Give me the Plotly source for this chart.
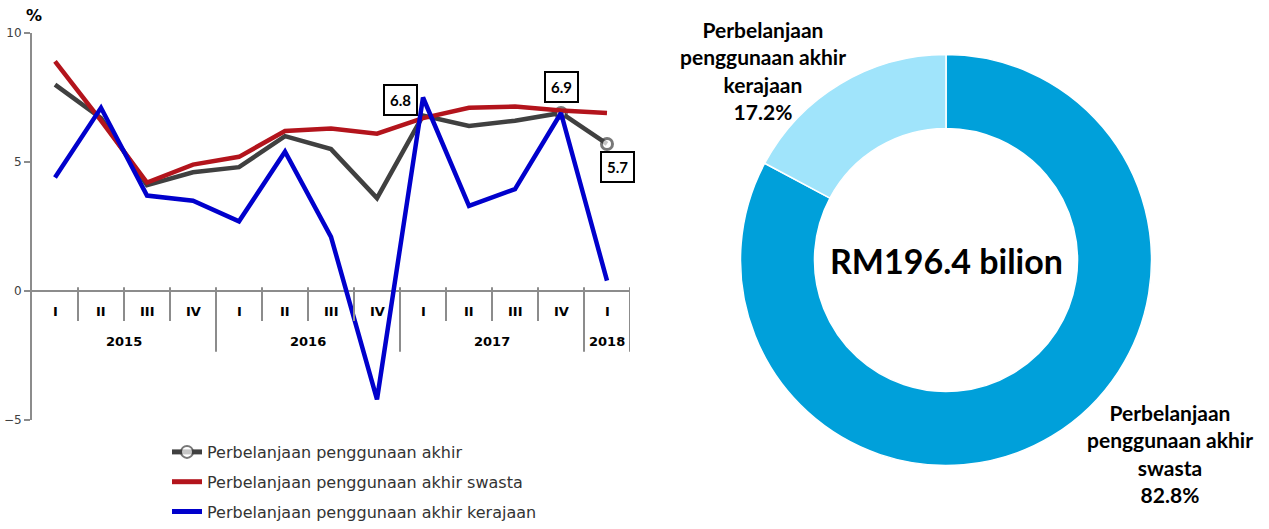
import plotly.graph_objects as go

# ---------------- data ----------------
quarters = ["I", "II", "III", "IV", "I", "II", "III", "IV", "I", "II", "III", "IV", "I"]
years = ["2015", "2016", "2017", "2018"]
year_counts = [4, 4, 4, 1]
total = [8.0, 6.7, 4.1, 4.6, 4.8, 6.0, 5.5, 3.6, 6.8, 6.4, 6.6, 6.9, 5.7]
swasta = [8.9, 6.6, 4.2, 4.9, 5.2, 6.2, 6.3, 6.1, 6.7, 7.1, 7.15, 7.0, 6.9]
kerajaan = [4.4, 7.1, 3.7, 3.5, 2.7, 5.4, 2.1, -4.2, 7.5, 3.3, 3.95, 6.9, 0.4]
series_names = ["Perbelanjaan penggunaan akhir",
                "Perbelanjaan penggunaan akhir swasta",
                "Perbelanjaan penggunaan akhir kerajaan"]
labelled_points = [8, 11, 12]

pie_labels = ["Perbelanjaan penggunaan akhir swasta", "Perbelanjaan penggunaan akhir kerajaan"]
pie_values = [82.8, 17.2]
pie_total = "RM196.4 bilion"

# ---------------- style ----------------
W, H = 1269, 529
FONT = "DejaVu Sans"
BOLD_FONT = "Lato"
GREY = "#404040"
RED = "#B3141C"
BLUE = "#0000CC"
AXIS = "#8C8C8C"
PIE_COLORS = ["#00A0DA", "#A0E4FB"]

x = list(range(len(quarters)))

fig = go.Figure()

marker_sizes = [11 if i >= len(x) - 2 else 0 for i in x]
fig.add_trace(go.Scatter(
    x=x, y=total, mode="lines+markers", name=series_names[0],
    line=dict(color=GREY, width=4.5),
    marker=dict(size=marker_sizes, color="white", line=dict(color=GREY, width=3)),
    legendgroup="a",
))
fig.add_trace(go.Scatter(
    x=x, y=swasta, mode="lines", name=series_names[1],
    line=dict(color=RED, width=4.5), legendgroup="b",
))
fig.add_trace(go.Scatter(
    x=x, y=kerajaan, mode="lines", name=series_names[2],
    line=dict(color=BLUE, width=4.5), legendgroup="c",
))

fig.add_trace(go.Pie(
    labels=pie_labels, values=pie_values, hole=0.64, sort=False,
    direction="clockwise", rotation=0, textinfo="none",
    marker=dict(colors=PIE_COLORS, line=dict(color="white", width=1.5)),
    domain=dict(x=[(946 - 205.5) / W, (946 + 205.5) / W],
                y=[1 - (260 + 205.5) / H, 1 - (260 - 205.5) / H]),
    showlegend=False,
))

annotations = []
shapes = []

def ann(**kw):
    kw.setdefault("showarrow", False)
    kw.setdefault("xanchor", "center")
    kw.setdefault("yanchor", "middle")
    annotations.append(kw)

# quarter labels and separators
for i, q in enumerate(quarters):
    ann(x=i, y=-0.8, xref="x", yref="y", text="<b>%s</b>" % q,
        font=dict(family=FONT, size=13, color="black"))
for i in range(1, len(quarters) + 1):
    shapes.append(dict(type="line", xref="x", yref="y", x0=i - 0.5, x1=i - 0.5,
                       y0=0.15, y1=-1.16, line=dict(color=AXIS, width=2)))
start = 0
for yr, n in zip(years, year_counts):
    ann(x=start + (n - 1) / 2, y=-1.97, xref="x", yref="y",
        text="<b>%s</b>" % yr, font=dict(family=FONT, size=13, color="black"))
    end = start + n
    shapes.append(dict(type="line", xref="x", yref="y", x0=end - 0.5, x1=end - 0.5,
                       y0=0, y1=-2.35, line=dict(color=AXIS, width=2)))
    start = end

# data labels
shifts = {8: (-23, 16), 11: (0, 26), 12: (10, -23)}
for i in labelled_points:
    dx, dy = shifts[i]
    ann(x=i, y=total[i], xref="x", yref="y",
        text="<b>%.1f</b>" % total[i], xshift=dx, yshift=dy,
        bordercolor="black", borderwidth=2, borderpad=5, bgcolor="white",
        font=dict(family=BOLD_FONT, size=15, color="black"))

# % unit
ann(x=34 / W, y=1 - 16 / H, xref="paper", yref="paper", text="<b>%</b>",
    font=dict(family=FONT, size=16, color="black"))

# pie texts
ann(x=946 / W, y=1 - 260 / H, xref="paper", yref="paper",
    text="<b>%s</b>" % pie_total, font=dict(family=BOLD_FONT, size=34, color="black"))
ann(x=763 / W, y=1 - 71 / H, xref="paper", yref="paper",
    text="<b>Perbelanjaan<br>penggunaan akhir<br>kerajaan<br>%.1f%%</b>" % pie_values[1],
    align="center", font=dict(family=BOLD_FONT, size=21, color="black"))
ann(x=1170 / W, y=1 - 453 / H, xref="paper", yref="paper",
    text="<b>Perbelanjaan<br>penggunaan akhir<br>swasta<br>%.1f%%</b>" % pie_values[0],
    align="center", font=dict(family=BOLD_FONT, size=21, color="black"))

fig.update_layout(
    width=W, height=H,
    margin=dict(l=0, r=0, t=0, b=0, autoexpand=False),
    paper_bgcolor="white", plot_bgcolor="white",
    font=dict(family=FONT),
    xaxis=dict(domain=[32 / W, 630 / W], range=[-0.5, 12.5], showgrid=False,
               zeroline=False, showticklabels=False, showline=False, fixedrange=True),
    yaxis=dict(domain=[1 - 420 / H, 1 - 33 / H], range=[-5, 10], tickvals=[-5, 0, 5, 10],
               showgrid=False, zeroline=True, zerolinecolor=AXIS, zerolinewidth=2,
               showline=True, linecolor=AXIS, linewidth=2, ticks="outside", ticklen=6,
               tickcolor=AXIS, tickwidth=2, tickfont=dict(family=FONT, size=12, color="#404040")),
    legend=dict(x=167 / W, y=0.0, xanchor="left", yanchor="bottom",
                font=dict(family=FONT, size=16, color="#333333"),
                tracegroupgap=6, itemsizing="constant", bgcolor="rgba(0,0,0,0)"),
    annotations=annotations,
    shapes=shapes,
)

fig.write_html("out.html", config={"displayModeBar": False},
               post_script="document.body.style.margin='0';")
